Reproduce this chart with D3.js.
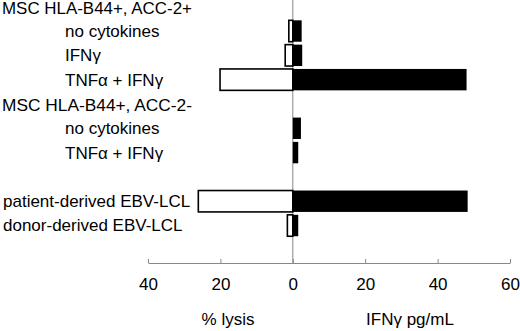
<!DOCTYPE html>
<head>
    <meta charset="utf-8">
    <title>MSC lysis and IFNg</title>
    <style>
        body { margin: 0; background: #fff; }
        svg text { font-family: "Liberation Sans", Arial, sans-serif; font-size: 17px; fill: #000; }
    </style>
</head>
<body>

<svg width="520" height="331"></svg>

<script src="https://d3js.org/d3.v7.min.js"></script>

<script>

    // rows, top to bottom (headers and the blank gap have no values)
    var rowLabels = ["MSC HLA-B44+, ACC-2+", "no cytokines", "IFNγ", "TNFα + IFNγ",
                     "MSC HLA-B44+, ACC-2-", "no cytokines", "TNFα + IFNγ", "",
                     "patient-derived EBV-LCL", "donor-derived EBV-LCL"];
    var rowKind = ["header", "sub", "sub", "sub", "header", "sub", "sub", "gap", "target", "target"];

    // % lysis (drawn to the left) and IFNg pg/mL (drawn to the right)
    var lysis = [null, 1.1, 2.1, 20.1, null, 0, 0, null, 26.1, 1.5];
    var ifng  = [null, 2.45, 2.6, 48.0, null, 2.25, 1.5, null, 48.3, 1.5];

    var tickValues = [-40, -20, 0, 20, 40, 60];

    var svg = d3.select("svg");

    var x = d3.scaleLinear().domain([-40, 60]).range([148, 510]);

    var y = d3.scaleBand()
        .domain(d3.range(rowLabels.length))
        .range([-5.45, 237.7])
        .paddingInner(0.12)
        .paddingOuter(0.06);

    var axisY = 263;
    var indent = { header: 2, sub: 65, target: 3, gap: 0 };

    // zero line
    svg.append("line")
        .attr("x1", x(0)).attr("x2", x(0))
        .attr("y1", 0).attr("y2", axisY)
        .attr("stroke", "#888")
        .attr("stroke-width", 1);

    var rows = d3.range(rowLabels.length);

    // lysis bars, open
    svg.append("g").selectAll("rect")
        .data(rows.filter(function(i) { return lysis[i]; }))
        .enter().append("rect")
            .attr("x", function(i) { return x(-lysis[i]); })
            .attr("width", function(i) { return x(0) - x(-lysis[i]); })
            .attr("y", function(i) { return y(i); })
            .attr("height", y.bandwidth())
            .attr("fill", "#fff")
            .attr("stroke", "#000")
            .attr("stroke-width", 1.6);

    // IFNg bars, solid
    svg.append("g").selectAll("rect")
        .data(rows.filter(function(i) { return ifng[i]; }))
        .enter().append("rect")
            .attr("x", x(0))
            .attr("width", function(i) { return x(ifng[i]) - x(0); })
            .attr("y", function(i) { return y(i); })
            .attr("height", y.bandwidth())
            .attr("fill", "#000");

    // row labels
    var labels = svg.append("g").selectAll("text")
        .data(rows)
        .enter().append("text")
            .attr("x", function(i) { return indent[rowKind[i]]; })
            .attr("y", function(i) {
                return y(i) + y.bandwidth() / 2 + (rowKind[i] == "header" ? 1.5 : 0);
            })
            .attr("dy", "0.35em")
            .text(function(i) { return rowLabels[i]; });

    // the group headers are set a little wider in the original
    labels.filter(function(i) { return rowKind[i] == "header"; })
        .attr("textLength", 190)
        .attr("lengthAdjust", "spacingAndGlyphs");

    // bottom axis, ticks pointing up
    var axis = svg.append("g")
        .attr("transform", "translate(0," + axisY + ")")
        .call(d3.axisBottom(x)
            .tickValues(tickValues)
            .tickFormat(function(d) { return Math.abs(d); })
            .tickSizeInner(-4)
            .tickSizeOuter(0)
            .tickPadding(15));

    axis.select(".domain").attr("stroke", "#888");
    axis.selectAll(".tick line").attr("stroke", "#888");
    axis.selectAll("text")
        .attr("font-family", null)
        .attr("font-size", null)
        .attr("fill", null);

    // axis titles
    svg.append("text")
        .attr("x", 228).attr("y", 325)
        .attr("text-anchor", "middle")
        .text("% lysis");

    svg.append("text")
        .attr("x", 410).attr("y", 325)
        .attr("text-anchor", "middle")
        .text("IFNγ pg/mL");

</script>
</body>
